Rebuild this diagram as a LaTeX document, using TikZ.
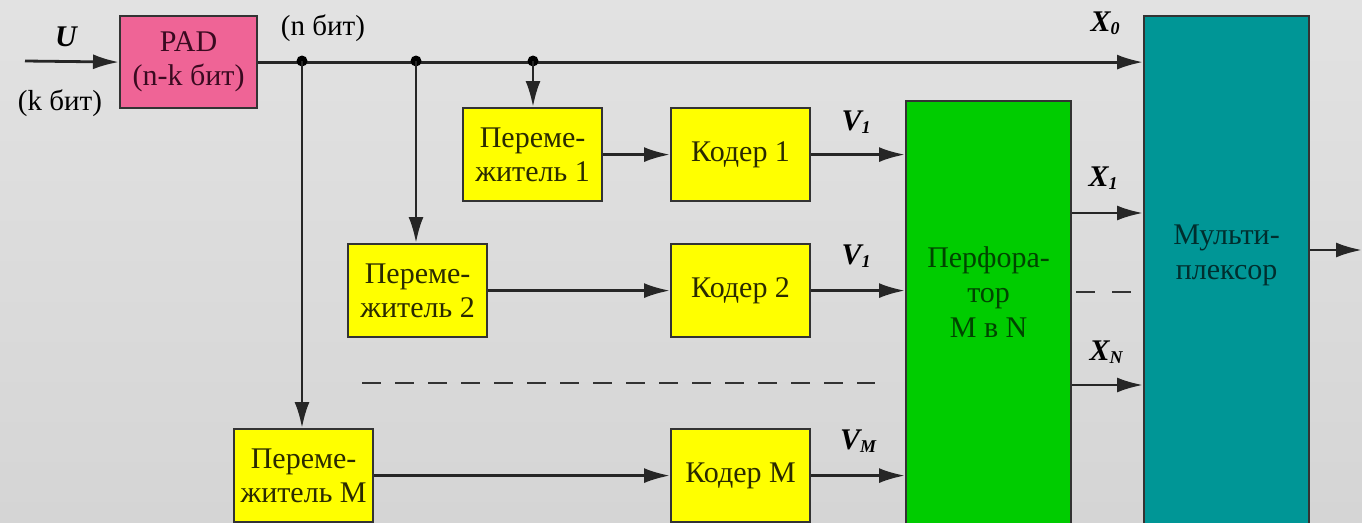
\documentclass[tikz,border=0pt]{standalone}
\usepackage{fontspec}
\setmainfont{Liberation Serif}
\usetikzlibrary{arrows.meta,calc}
\definecolor{bgtop}{HTML}{E2E2E2}
\definecolor{bgbot}{HTML}{D5D5D5}
\definecolor{padc}{HTML}{EF6496}
\definecolor{yelc}{HTML}{FFFF00}
\definecolor{grnc}{HTML}{00CC00}
\definecolor{tealc}{HTML}{009696}
\definecolor{edgec}{HTML}{333333}
\definecolor{padt}{HTML}{3A0A20}
\definecolor{yelt}{HTML}{2A2A00}
\definecolor{grnt}{HTML}{004400}
\definecolor{tealt}{HTML}{002E2E}
\tikzset{
  box/.style={draw=edgec, line width=2.2pt, inner sep=0pt, align=center, anchor=north west,
    font=\fontsize{30}{34}\selectfont},
  padbox/.style={box, fill=padc, text=padt, minimum width=137pt, minimum height=92pt},
  ybox/.style={box, fill=yelc, text=yelt, minimum width=139pt, minimum height=93pt},
  bigbox/.style={box, minimum width=165pt},
  boxtext/.style={align=center, font=\fontsize{30}{35}\selectfont},
  lab/.style={font=\fontsize{29}{33}\selectfont},
  arr/.style={line width=2.8pt, draw=black!85, -{Latex[length=26pt,width=15pt]}},
  dsh/.style={line width=2.8pt, draw=black!80, dash pattern=on 19pt off 14pt},
  dot/.style={circle, fill=black, inner sep=0pt, minimum size=11pt},
  sig/.style={font=\fontsize{30}{33}\selectfont\bfseries\itshape}
}
\newcommand{\sg}[2]{#1\raisebox{-3pt}{\fontsize{18}{18}\selectfont\itshape #2}}
\begin{document}
\begin{tikzpicture}[x=1pt,y=-1pt]
\useasboundingbox (0,0) rectangle (1362,522);
\clip (0,0) rectangle (1362,522);
\shade[top color=bgtop, bottom color=bgbot] (0,0) rectangle (1362,522);

% boxes
\node[padbox] (pad) at (119,15) {PAD\\(n-k бит)};
\node[ybox] (int1) at (462,107) {Переме-\\житель 1};
\node[ybox] (cod1) at (670,107) {Кодер 1};
\node[ybox] (int2) at (347,243) {Переме-\\житель 2};
\node[ybox] (cod2) at (670,243) {Кодер 2};
\node[ybox] (intm) at (233,428) {Переме-\\житель М};
\node[ybox] (codm) at (670,428) {Кодер М};
\node[bigbox, fill=grnc, minimum height=440pt] (perf) at (905,100) {};
\node[bigbox, fill=tealc, minimum height=525pt] (mux) at (1143,15) {};
\node[boxtext, text=grnt] (perft) at ($(perf.north)+(0,192)$) {Перфора-\\тор\\М в N};
\node[boxtext, text=tealt] (muxt) at ($(mux.north)+(0,240)$) {Мульти-\\плексор};

% input
\coordinate (in) at (25,61);
\draw[arr] (in) -- (pad.west);
\node[sig] (ulab) at (66,37) {U};
\node[lab] (klab) at (60,103) {(k бит)};
\node[lab] (nlab) at (323,28) {(n бит)};

% main bus
\coordinate (j1) at (302,61);
\coordinate (j2) at (416,61);
\coordinate (j3) at (533,61);
\draw[arr] (pad.east) -- (pad.east -| mux.west);
\node[dot] (d1) at (j1) {};
\node[dot] (d2) at (j2) {};
\node[dot] (d3) at (j3) {};
\draw[arr] (j3) -- (j3 |- int1.north);
\draw[arr] (j2) -- (j2 |- int2.north);
\draw[arr] (j1) -- (j1 |- intm.north);
\node[sig] (x0lab) at (1105,23) {\sg{X}{0}};

% chains
\draw[arr] (int1.east) -- (cod1.west);
\draw[arr] (int2.east) -- (cod2.west);
\draw[arr] (intm.east) -- (codm.west);
\draw[arr] (cod1.east) -- (cod1.east -| perf.west);
\draw[arr] (cod2.east) -- (cod2.east -| perf.west);
\draw[arr] (codm.east) -- (codm.east -| perf.west);
\node[sig] (v1lab) at (856,122) {\sg{V}{1}};
\node[sig] (v2lab) at (856,256) {\sg{V}{1}};
\node[sig] (vmlab) at (858,441) {\sg{V}{M}};

% dashed separator
\coordinate (da) at (362,383);
\coordinate (db) at (875,383);
\draw[dsh] (da) -- (db);

% perforator outputs
\coordinate (x1) at (1070,213);
\coordinate (xn) at (1070,385);
\draw[arr] (perf.east |- x1) -- (mux.west |- x1);
\draw[arr] (perf.east |- xn) -- (mux.west |- xn);
\coordinate (xa) at (1076,292);
\coordinate (xb) at (1132,292);
\draw[dsh, dash pattern=on 19pt off 17pt] (xa) -- (xb);
\node[sig] (x1lab) at (1103,178) {\sg{X}{1}};
\node[sig] (xnlab) at (1106,352) {\sg{X}{N}};

% output
\coordinate (out) at (1362,250);
\draw[arr] (mux.east |- out) -- (out);
\end{tikzpicture}
\end{document}
